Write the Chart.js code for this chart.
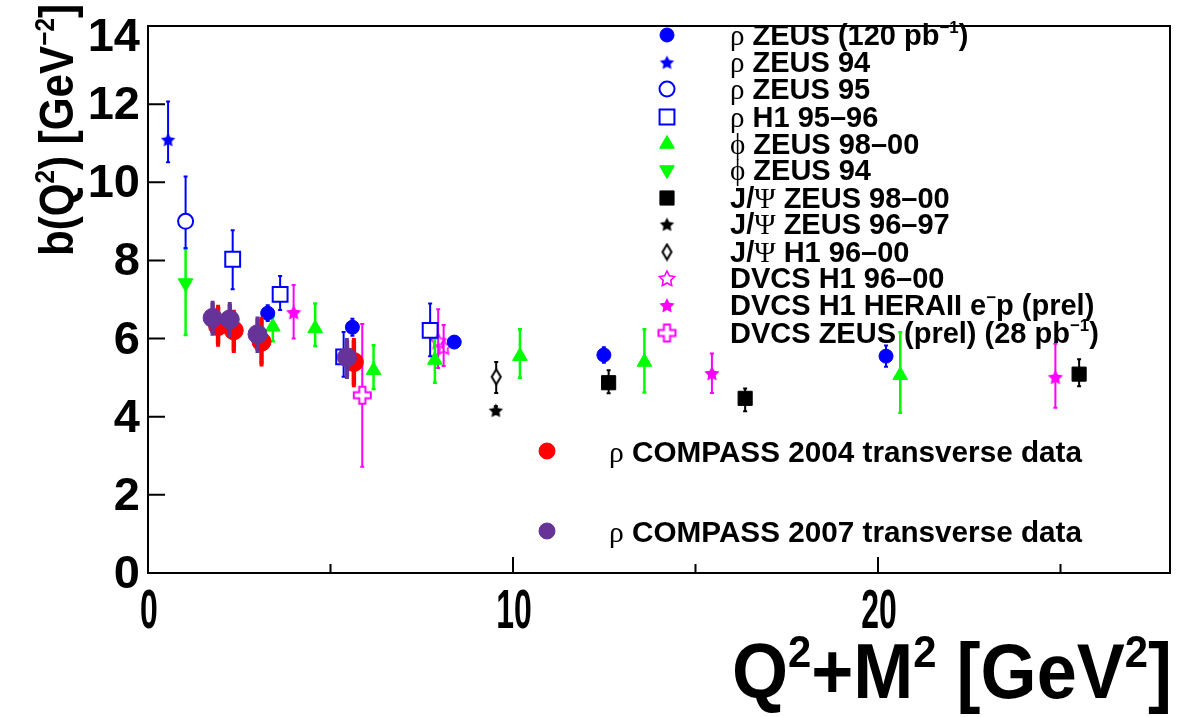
<!DOCTYPE html>
<html>
<head>
<meta charset="utf-8">
<script src="https://cdn.jsdelivr.net/npm/chart.js@4.4.1/dist/chart.umd.min.js"></script>
<style>
html, body { margin: 0; padding: 0; background: #fff; }
</style>
</head>
<body>
<canvas id="bChart" width="1177" height="717"></canvas>
<script>
// axis ticks
var xTicks = [0, 10, 20];
var xMinorTicks = [5, 15, 25];
var yTicks = [0, 2, 4, 6, 8, 10, 12, 14];

// rho ZEUS (120 pb-1)
var rhoZeusX = [3.28, 5.60, 8.39, 12.49, 20.22];
var rhoZeusY = [6.65, 6.29, 5.91, 5.58, 5.55];
var rhoZeusErr = [0.20, 0.22, 0.12, 0.20, 0.27];
// rho ZEUS 94
var rhoZeus94X = [0.55];
var rhoZeus94Y = [11.10];
var rhoZeus94Hi = [0.97];
var rhoZeus94Lo = [0.59];
// rho ZEUS 95
var rhoZeus95X = [1.03];
var rhoZeus95Y = [9.00];
var rhoZeus95Hi = [1.15];
var rhoZeus95Lo = [0.69];
// rho H1 95-96
var rhoH1X = [2.32, 3.62, 5.36, 7.73];
var rhoH1Y = [8.03, 7.13, 5.53, 6.21];
var rhoH1Hi = [0.74, 0.47, 0.64, 0.69];
var rhoH1Lo = [0.77, 0.40, 0.51, 0.66];
// phi ZEUS 98-00
var phiZeusX = [3.42, 4.58, 6.18, 7.86, 10.19, 13.60, 20.61];
var phiZeusY = [6.30, 6.26, 5.19, 5.45, 5.55, 5.40, 5.06];
var phiZeusHi = [0.27, 0.64, 0.64, 0.56, 0.69, 0.84, 1.10];
var phiZeusLo = [0.37, 0.45, 0.48, 0.58, 0.55, 0.78, 0.96];
// phi ZEUS 94
var phiZeus94X = [1.03];
var phiZeus94Y = [7.42];
var phiZeus94Hi = [0.89];
var phiZeus94Lo = [1.33];
// J/Psi ZEUS 98-00
var jpsiZeusX = [12.62, 16.36, 25.51];
var jpsiZeusY = [4.87, 4.47, 5.09];
var jpsiZeusHi = [0.32, 0.25, 0.38];
var jpsiZeusLo = [0.27, 0.33, 0.31];
// J/Psi ZEUS 96-97
var jpsiZeus96X = [9.53];
var jpsiZeus96Y = [4.17];
var jpsiZeus96Err = [0.10];
// J/Psi H1 96-00
var jpsiH1X = [9.54];
var jpsiH1Y = [5.02];
var jpsiH1Hi = [0.38];
var jpsiH1Lo = [0.41];
// DVCS H1 96-00
var dvcsH1X = [7.95, 8.10];
var dvcsH1Y = [5.95, 5.80];
var dvcsH1Hi = [0.80, 0.55];
var dvcsH1Lo = [0.70, 0.50];
// DVCS H1 HERAII e-p (prel)
var dvcsH1IIX = [3.99, 15.45, 24.86];
var dvcsH1IIY = [6.68, 5.12, 5.02];
var dvcsH1IIHi = [0.69, 0.50, 0.85];
var dvcsH1IILo = [0.68, 0.51, 0.79];
// DVCS ZEUS (prel)
var dvcsZeusX = [5.87];
var dvcsZeusY = [4.55];
var dvcsZeusHi = [1.82];
var dvcsZeusLo = [1.83];
// rho COMPASS 2004 transverse
var compass04X = [1.92, 2.35, 3.11, 5.64];
var compass04Y = [6.32, 6.21, 5.92, 5.40];
var compass04Hi = [0.49, 0.47, 0.58, 0.56];
var compass04Lo = [0.47, 0.52, 0.58, 0.59];
// rho COMPASS 2007 transverse
var compass07X = [1.77, 2.24, 3.00, 5.45];
var compass07Y = [6.53, 6.49, 6.11, 5.52];
var compass07Hi = [0.38, 0.39, 0.40, 0.44];
var compass07Lo = [0.40, 0.40, 0.42, 0.50];

var SANS = '"Liberation Sans", Arial, Helvetica, sans-serif';
var SERIF = '"Liberation Serif", "DejaVu Serif", serif';
var BLUE = '#0000ff', GREEN = '#00ff00', MAG = '#ff00ff', RED = '#ff0000', PURPLE = '#663399';

// marker pictures that Chart.js has no built-in style for
function starPic(r, color, filled) {
    var s = Math.ceil(r * 2 + 4);
    var c = document.createElement('canvas');
    c.width = s; c.height = s;
    var g = c.getContext('2d');
    g.beginPath();
    for (var i = 0; i < 10; i++) {
        var a = -Math.PI / 2 + i * Math.PI / 5;
        var rr = (i % 2) ? r * 0.5 : r;
        g.lineTo(s / 2 + rr * Math.cos(a), s / 2 + 1 + rr * Math.sin(a));
    }
    g.closePath();
    if (filled) {
        g.fillStyle = color; g.fill();
    } else {
        g.strokeStyle = color; g.lineWidth = 1.6; g.stroke();
    }
    return c;
}

function crossPic(r, color) {
    var s = Math.ceil(r * 2 + 4);
    var c = document.createElement('canvas');
    c.width = s; c.height = s;
    var g = c.getContext('2d');
    var m = s / 2, a = r, b = r * 0.36;
    g.beginPath();
    g.moveTo(m - b, m - a); g.lineTo(m + b, m - a); g.lineTo(m + b, m - b);
    g.lineTo(m + a, m - b); g.lineTo(m + a, m + b); g.lineTo(m + b, m + b);
    g.lineTo(m + b, m + a); g.lineTo(m - b, m + a); g.lineTo(m - b, m + b);
    g.lineTo(m - a, m + b); g.lineTo(m - a, m - b); g.lineTo(m - b, m - b);
    g.closePath();
    g.strokeStyle = color; g.lineWidth = 2; g.stroke();
    return c;
}

function diamondPic(w, h, color) {
    var c = document.createElement('canvas');
    c.width = w + 4; c.height = h + 4;
    var g = c.getContext('2d');
    var cx = c.width / 2, cy = c.height / 2;
    g.beginPath();
    g.moveTo(cx, cy - h / 2); g.lineTo(cx + w / 2, cy);
    g.lineTo(cx, cy + h / 2); g.lineTo(cx - w / 2, cy);
    g.closePath();
    g.strokeStyle = color; g.lineWidth = 2; g.stroke();
    return c;
}

function pts(xs, ys) {
    return xs.map(function(x, i) { return { x: x, y: ys[i] }; });
}

function series(label, xs, ys, hi, lo, st) {
    return {
        label: label,
        data: pts(xs, ys),
        errHi: hi,
        errLo: lo,
        errColor: st.color,
        errWidth: st.errWidth || 2,
        errGap: st.gap || 0,
        legendRadius: st.legendRadius || st.radius,
        pointStyle: st.style,
        pointRadius: st.radius,
        pointRotation: st.rotation || 0,
        backgroundColor: st.fill || st.color,
        borderColor: st.color,
        borderWidth: st.border === undefined ? 1 : st.border,
        showLine: false,
        order: st.order === undefined ? 5 : st.order
    };
}

var datasets = [
    series('#rho ZEUS (120 pb^{−1})', rhoZeusX, rhoZeusY, rhoZeusErr, rhoZeusErr,
        { color: BLUE, style: 'circle', radius: 7 }),
    series('#rho ZEUS 94', rhoZeus94X, rhoZeus94Y, rhoZeus94Hi, rhoZeus94Lo,
        { color: BLUE, style: starPic(7.5, BLUE, true), radius: 7 }),
    series('#rho ZEUS 95', rhoZeus95X, rhoZeus95Y, rhoZeus95Hi, rhoZeus95Lo,
        { color: BLUE, style: 'circle', radius: 7.5, fill: 'rgba(0,0,0,0)', border: 2, gap: 7.5 }),
    series('#rho H1 95–96', rhoH1X, rhoH1Y, rhoH1Hi, rhoH1Lo,
        { color: BLUE, style: 'rect', radius: 10.5, fill: 'rgba(0,0,0,0)', border: 2, gap: 7.5 }),
    series('#phi ZEUS 98–00', phiZeusX, phiZeusY, phiZeusHi, phiZeusLo,
        { color: GREEN, style: 'triangle', radius: 8.5, errWidth: 2.5 }),
    series('#phi ZEUS 94', phiZeus94X, phiZeus94Y, phiZeus94Hi, phiZeus94Lo,
        { color: GREEN, style: 'triangle', rotation: 180, radius: 8.5, errWidth: 2.5 }),
    series('J/#Psi ZEUS 98–00', jpsiZeusX, jpsiZeusY, jpsiZeusHi, jpsiZeusLo,
        { color: '#000', style: 'rect', radius: 10 }),
    series('J/#Psi ZEUS 96–97', jpsiZeus96X, jpsiZeus96Y, jpsiZeus96Err, jpsiZeus96Err,
        { color: '#000', style: starPic(7.5, '#000', true), radius: 7 }),
    series('J/#Psi H1 96–00', jpsiH1X, jpsiH1Y, jpsiH1Hi, jpsiH1Lo,
        { color: '#000', style: diamondPic(9, 15, '#000'), radius: 7, gap: 7.5 }),
    series('DVCS H1 96–00', dvcsH1X, dvcsH1Y, dvcsH1Hi, dvcsH1Lo,
        { color: MAG, style: starPic(8, MAG, false), radius: 8 }),
    series('DVCS H1 HERAII e^{−}p (prel)', dvcsH1IIX, dvcsH1IIY, dvcsH1IIHi, dvcsH1IILo,
        { color: MAG, style: starPic(8, MAG, true), radius: 8 }),
    series('DVCS ZEUS (prel) (28 pb^{−1})', dvcsZeusX, dvcsZeusY, dvcsZeusHi, dvcsZeusLo,
        { color: MAG, style: crossPic(8.5, MAG), radius: 8.5, gap: 8.5 }),
    series('#rho COMPASS 2004 transverse data', compass04X, compass04Y, compass04Hi, compass04Lo,
        { color: RED, style: 'circle', radius: 9.5, legendRadius: 8, errWidth: 4.5, order: 1 }),
    series('#rho COMPASS 2007 transverse data', compass07X, compass07Y, compass07Hi, compass07Lo,
        { color: PURPLE, style: 'circle', radius: 9.5, legendRadius: 8, errWidth: 4.5, order: 0 })
];

// legend positions (pixels) inside the frame
var legendRowsY = [35, 62, 89, 117, 144, 170, 198, 224, 252, 278, 305, 333];

// ROOT-like label text: #rho, #phi, #Psi and ^{...}
var greek = { '#rho': 'ρ', '#phi': 'ϕ', '#Psi': 'Ψ' };
function parseLabel(s) {
    var parts = [], buf = '', i = 0;
    while (i < s.length) {
        if (s[i] === '#') {
            var m = s.substr(i).match(/^#[A-Za-z]+/)[0];
            if (buf) { parts.push({ t: buf }); buf = ''; }
            parts.push({ t: greek[m], g: true });
            i += m.length;
        } else if (s[i] === '^' && s[i + 1] === '{') {
            var end = s.indexOf('}', i);
            if (buf) { parts.push({ t: buf }); buf = ''; }
            parts.push({ t: s.substring(i + 2, end), sup: true });
            i = end + 1;
        } else {
            buf += s[i]; i++;
        }
    }
    if (buf) parts.push({ t: buf });
    return parts;
}

function drawRich(ctx, label, x, y, size, draw) {
    var cx = x;
    parseLabel(label).forEach(function(p) {
        var fs = p.sup ? size * 0.58 : size;
        ctx.font = (p.g ? '' : 'bold ') + fs + 'px ' + (p.g ? SERIF : SANS);
        if (draw) ctx.fillText(p.t, cx, p.sup ? y - size * 0.4 : y);
        cx += ctx.measureText(p.t).width;
    });
    return cx - x;
}

function squeezed(ctx, label, x, y, size, width, rotate) {
    var w = drawRich(ctx, label, 0, 0, size, false);
    ctx.save();
    ctx.translate(x, y);
    if (rotate) ctx.rotate(-Math.PI / 2);
    ctx.scale(width / w, 1);
    drawRich(ctx, label, 0, 0, size, true);
    ctx.restore();
}

var errorBars = {
    id: 'errorBars',
    beforeDatasetDraw: function(chart, args) {
        var ds = chart.data.datasets[args.index];
        var ys = chart.scales.y, ctx = chart.ctx;
        ctx.save();
        ctx.strokeStyle = ds.errColor;
        ctx.lineWidth = ds.errWidth;
        args.meta.data.forEach(function(pt, i) {
            var v = ds.data[i].y;
            var top = ys.getPixelForValue(v + ds.errHi[i]);
            var bot = ys.getPixelForValue(v - ds.errLo[i]);
            var gap = ds.errGap;
            ctx.beginPath();
            if (top < pt.y - gap) { ctx.moveTo(pt.x, top); ctx.lineTo(pt.x, pt.y - gap); }
            if (bot > pt.y + gap) { ctx.moveTo(pt.x, pt.y + gap); ctx.lineTo(pt.x, bot); }
            ctx.moveTo(pt.x - 2, top); ctx.lineTo(pt.x + 2, top);
            ctx.moveTo(pt.x - 2, bot); ctx.lineTo(pt.x + 2, bot);
            ctx.stroke();
        });
        ctx.restore();
    }
};

var frame = {
    id: 'frame',
    afterDraw: function(chart) {
        var ctx = chart.ctx, a = chart.chartArea;
        var xs = chart.scales.x, ys = chart.scales.y;
        ctx.save();
        ctx.strokeStyle = '#000';
        ctx.lineWidth = 2;
        ctx.strokeRect(a.left, a.top, a.right - a.left, a.bottom - a.top);

        ctx.beginPath();
        yTicks.forEach(function(t) {
            var py = ys.getPixelForValue(t);
            ctx.moveTo(a.left, py); ctx.lineTo(a.left + 17, py);
        });
        xTicks.forEach(function(t) {
            var px = xs.getPixelForValue(t);
            ctx.moveTo(px, a.bottom); ctx.lineTo(px, a.bottom - 16);
        });
        xMinorTicks.forEach(function(t) {
            var px = xs.getPixelForValue(t);
            ctx.moveTo(px, a.bottom); ctx.lineTo(px, a.bottom - 9);
        });
        ctx.stroke();

        ctx.fillStyle = '#000';
        // y tick labels
        ctx.font = 'bold 47px ' + SANS;
        ctx.textAlign = 'right';
        ctx.textBaseline = 'middle';
        yTicks.forEach(function(t) {
            var py = Math.max(ys.getPixelForValue(t), 36);
            ctx.fillText(String(t), 140, py + 2);
        });
        // x tick labels (narrow)
        ctx.textAlign = 'center';
        ctx.textBaseline = 'alphabetic';
        xTicks.forEach(function(t) {
            var px = xs.getPixelForValue(t);
            ctx.save();
            ctx.translate(px + 1, 628);
            ctx.scale(0.57, 1);
            ctx.font = 'bold 56px ' + SANS;
            ctx.fillText(String(t), 0, 0);
            ctx.restore();
        });

        ctx.textAlign = 'left';
        // axis titles
        squeezed(ctx, 'Q^{2}+M^{2} [GeV^{2}]', 732, 698, 78, 440, false);
        squeezed(ctx, 'b(Q^{2}) [GeV^{−2}]', 73, 256, 48, 252, true);

        // legend
        var ds = chart.data.datasets;
        for (var i = 0; i < 12; i++) {
            drawMark(ctx, ds[i], 667, legendRowsY[i]);
            ctx.fillStyle = '#000';
            drawRich(ctx, ds[i].label, 730, legendRowsY[i] + 10, 29, true);
        }
        drawMark(ctx, ds[12], 547, 451);
        ctx.fillStyle = '#000';
        drawRich(ctx, ds[12].label, 609, 462, 29.7, true);
        drawMark(ctx, ds[13], 547, 531);
        ctx.fillStyle = '#000';
        drawRich(ctx, ds[13].label, 609, 542, 29.7, true);
        ctx.restore();
    }
};

function drawMark(ctx, d, x, y) {
    ctx.save();
    ctx.fillStyle = d.backgroundColor;
    ctx.strokeStyle = d.borderColor;
    ctx.lineWidth = d.borderWidth;
    Chart.helpers.drawPoint(ctx, {
        pointStyle: d.pointStyle,
        radius: d.legendRadius,
        rotation: d.pointRotation,
        borderWidth: d.borderWidth
    }, x, y);
    ctx.restore();
}

var ctx = document.getElementById('bChart');
var bChart = new Chart(ctx, {
    type: 'scatter',
    data: { datasets: datasets },
    options: {
        responsive: false,
        animation: false,
        layout: { autoPadding: false, padding: { left: 148, right: 7, top: 26, bottom: 144 } },
        scales: {
            x: { type: 'linear', min: 0, max: 28, display: false },
            y: { type: 'linear', min: 0, max: 14, display: false }
        },
        plugins: {
            legend: { display: false },
            tooltip: { enabled: false }
        }
    },
    plugins: [errorBars, frame]
});
</script>
</body>
</html>
